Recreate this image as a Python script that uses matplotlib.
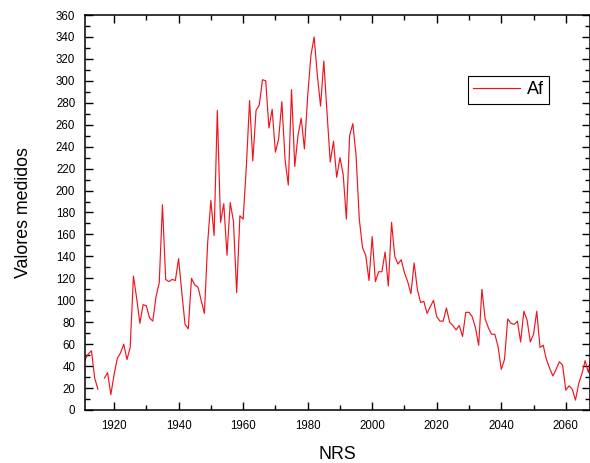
import matplotlib
matplotlib.use("Agg")
import matplotlib.pyplot as plt
import numpy as np
from matplotlib.ticker import MultipleLocator

plt.rcParams['font.family'] = ['Liberation Sans', 'DejaVu Sans']

years = np.arange(1911, 2069)
af = [46, 51, 54, 29, 19, np.nan, 29, 34, 14, 32,
      47, 52, 60, 46, 57, 122, 102, 79, 96, 95,
      84, 81, 103, 116, 187, 119, 117, 119, 118, 138,
      107, 78, 74, 120, 114, 112, 100, 88, 152, 191,
      159, 273, 171, 188, 141, 189, 172, 107, 177, 174,
      222, 282, 227, 273, 278, 301, 300, 257, 274, 235,
      247, 281, 228, 205, 292, 222, 250, 266, 238, 286,
      323, 340, 305, 277, 318, 271, 226, 245, 212, 230,
      215, 174, 250, 261, 232, 174, 148, 141, 118, 158,
      117, 126, 126, 144, 113, 171, 140, 133, 137, 125,
      117, 106, 134, 110, 98, 99, 88, 94, 100, 85,
      81, 81, 93, 80, 77, 73, 77, 67, 89, 89,
      85, 75, 59, 110, 83, 75, 69, 69, 58, 37,
      46, 83, 79, 78, 81, 62, 90, 82, 62, 69,
      90, 57, 59, 46, 38, 31, 37, 44, 41, 18,
      22, 19, 9, 24, 33, 45, 34, 52]

fig = plt.figure(figsize=(5.9, 4.63), dpi=100)
ax = fig.add_axes([0.1441, 0.1145, 0.8559, 0.8531])

ax.plot(years, af, color='#f0141e', lw=0.85, label='Af')

ax.set_xlim(1911, 2067.5)
ax.set_ylim(0, 360)
ax.xaxis.set_major_locator(MultipleLocator(20))
ax.xaxis.set_minor_locator(MultipleLocator(10))
ax.yaxis.set_major_locator(MultipleLocator(20))
ax.yaxis.set_minor_locator(MultipleLocator(10))
ax.tick_params(which='both', direction='in', top=True, right=True,
               labelsize=8.3, width=1.0, pad=7)
ax.tick_params(which='major', length=6)
ax.tick_params(which='minor', length=3.5)
for s in ax.spines.values():
    s.set_linewidth(1.1)

ax.set_xlabel('NRS', fontsize=12.8, labelpad=10)
ax.set_ylabel('Valores medidos', fontsize=12.8, labelpad=17)

leg = ax.legend(loc='upper left', bbox_to_anchor=(0.758, 0.846), fontsize=13,
                fancybox=False, edgecolor='black', framealpha=1,
                handlelength=2.6, handletextpad=0.35, borderpad=0.3,
                borderaxespad=0)
leg.get_frame().set_linewidth(0.8)

fig.savefig('out.png', dpi=100)
